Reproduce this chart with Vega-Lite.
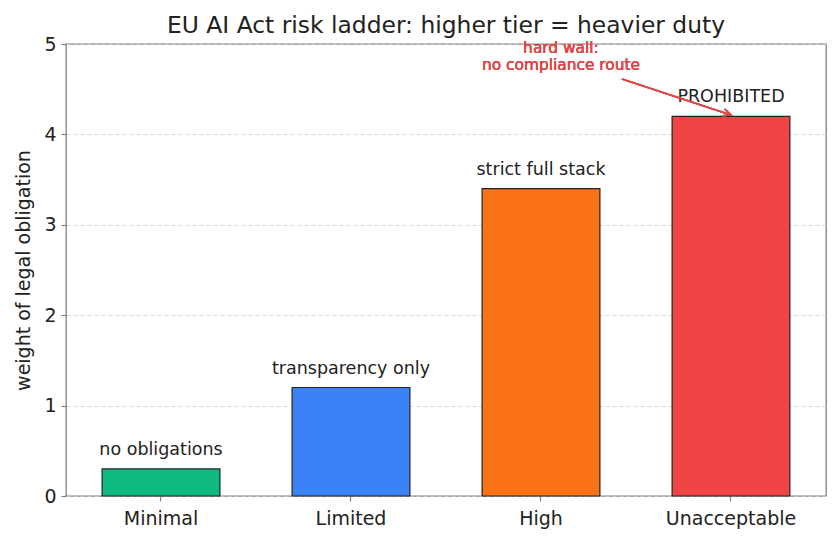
{
  "$schema": "https://vega.github.io/schema/vega-lite/v6.json",
  "width": 760,
  "height": 452,
  "autosize": {"type": "none"},
  "padding": {"left": 66, "top": 44, "right": 14, "bottom": 47},
  "background": "white",
  "config": {
    "font": "DejaVu Sans",
    "view": {"stroke": "#808080", "strokeWidth": 1.3},
    "axis": {
      "domain": false,
      "labelFont": "DejaVu Sans",
      "labelFontSize": 19,
      "labelColor": "#222222",
      "titleFont": "DejaVu Sans",
      "titleFontSize": 19,
      "titleFontWeight": "normal",
      "titleColor": "#222222",
      "tickColor": "#808080",
      "tickSize": 5,
      "tickWidth": 1.2
    }
  },
  "title": {
    "text": "EU AI Act risk ladder: higher tier = heavier duty",
    "font": "DejaVu Sans",
    "fontSize": 23.4,
    "fontWeight": "normal",
    "color": "#222222",
    "anchor": "middle",
    "offset": -3
  },
  "data": {
    "values": [
      {"tier": "Minimal", "weight": 0.3, "note": "no obligations"},
      {"tier": "Limited", "weight": 1.2, "note": "transparency only"},
      {"tier": "High", "weight": 3.4, "note": "strict full stack"},
      {"tier": "Unacceptable", "weight": 4.2, "note": "PROHIBITED"}
    ]
  },
  "layer": [
    {
      "encoding": {
        "x": {
          "field": "tier",
          "type": "nominal",
          "sort": null,
          "scale": {"paddingInner": 0.38, "paddingOuter": 0.19},
          "axis": {"title": null, "labelAngle": 0, "labelPadding": 8, "bandPosition": 0.5, "grid": false}
        },
        "y": {
          "field": "weight",
          "type": "quantitative",
          "scale": {"domain": [0, 5], "nice": false},
          "axis": {
            "title": "weight of legal obligation",
            "values": [0, 1, 2, 3, 4, 5],
            "format": "d",
            "labelPadding": 5,
            "titlePadding": 10,
            "grid": true,
            "gridColor": "#cfcfcf",
            "gridDash": [4, 3],
            "gridWidth": 0.8
          }
        }
      },
      "layer": [
        {
          "mark": {"type": "bar", "stroke": "#222222", "strokeWidth": 1.2},
          "encoding": {
            "color": {
              "field": "tier",
              "type": "nominal",
              "scale": {
                "domain": ["Minimal", "Limited", "High", "Unacceptable"],
                "range": ["#10b981", "#3b82f6", "#f97316", "#ef4444"]
              },
              "legend": null
            }
          }
        },
        {
          "mark": {"type": "text", "baseline": "alphabetic", "align": "center", "dy": -14, "fontSize": 17.5, "color": "#222222"},
          "encoding": {"text": {"field": "note"}}
        }
      ]
    },
    {
      "layer": [
        {
          "mark": {"type": "rule", "color": "#e04848", "strokeWidth": 1.5},
          "encoding": {
            "x": {"datum": 2.426, "type": "quantitative", "scale": {"domain": [-0.5, 3.5], "nice": false, "zero": false}, "axis": null},
            "y": {"datum": 4.613, "type": "quantitative"},
            "x2": {"datum": 3.0},
            "y2": {"datum": 4.215}
          }
        },
        {
          "mark": {
            "type": "point",
            "shape": "M-1,-0.45L0,0L-1,0.45",
            "filled": false,
            "stroke": "#e04848",
            "strokeWidth": 1.5,
            "size": 256,
            "angle": 19,
            "opacity": 1
          },
          "encoding": {
            "x": {"datum": 3.0, "type": "quantitative"},
            "y": {"datum": 4.215, "type": "quantitative"}
          }
        },
        {
          "mark": {"type": "text", "align": "center", "baseline": "alphabetic", "fontSize": 15.4, "lineHeight": 17, "color": "#e04848"},
          "encoding": {
            "x": {"datum": 2.105, "type": "quantitative"},
            "y": {"datum": 4.9, "type": "quantitative"},
            "text": {"value": ["hard wall:", "no compliance route"]}
          }
        }
      ]
    }
  ],
  "resolve": {"scale": {"x": "independent"}}
}
